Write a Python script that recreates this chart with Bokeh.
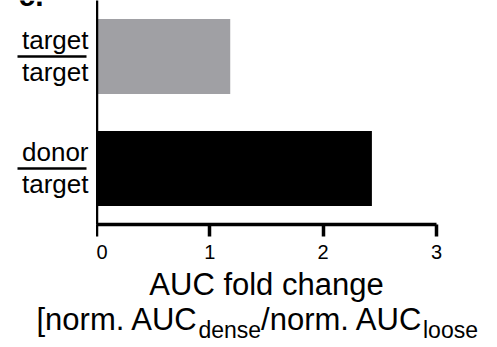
from bokeh.plotting import figure
from bokeh.layouts import column, row
from bokeh.models import Range1d, FactorRange, FixedTicker
from bokeh.core.properties import value
from bokeh.embed import file_html
from bokeh.resources import INLINE

# ---- data ----
categories = ["donor/target", "target/target"]      # bottom to top
numerators = ["donor", "target"]
denominators = ["target", "target"]
fold_change = [2.43, 1.18]
bar_colors = ["#000000", "#A0A0A4"]
x_ticks = [0, 1, 2, 3]
x_title = "AUC fold change"
x_title2 = [("[norm. AUC", False), ("dense", True), ("/norm. AUC", False), ("loose", True)]

FONT = "Liberation Sans"
W, H = 497, 347
LEFT_W = 96          # width of the category-label panel
FRAME_H = 224
AXIS_H = 43          # room under the frame for ticks + tick labels
MAIN_H = FRAME_H + AXIS_H
MR = 61
FRAME_W = W - LEFT_W - MR
XMIN, XMAX = 0, 3
BASE_FIX = 0.33      # renderer places 'alphabetic' baseline this many em low

yr = FactorRange(factors=categories, range_padding=0)

def bare(w, h, xr, yrange):
    f = figure(width=w, height=h, x_range=xr, y_range=yrange,
               output_backend="svg", toolbar_location=None,
               x_axis_type=None, y_axis_type=None,
               min_border_left=0, min_border_right=0, min_border_top=0,
               min_border_bottom=0)
    f.outline_line_color = None
    f.grid.grid_line_color = None
    return f

# ---- main chart ----
p = figure(width=W - LEFT_W, height=MAIN_H, x_range=Range1d(XMIN, XMAX), y_range=yr,
           output_backend="svg", toolbar_location=None,
           min_border_left=0, min_border_right=MR, min_border_top=0,
           min_border_bottom=AXIS_H)
p.outline_line_color = None
p.grid.grid_line_color = None

p.hbar(y=categories, left=0, right=fold_change, height=0.67,
       fill_color=bar_colors, line_color=None)

xa = p.xaxis[0]
xa.ticker = FixedTicker(ticks=x_ticks)
xa.axis_line_width = 3.5
xa.major_tick_line_width = 3.5
xa.major_tick_out = 12
xa.major_tick_in = 0
xa.minor_tick_line_color = None
xa.major_label_text_font = FONT
xa.major_label_text_font_size = "20px"
xa.major_label_text_color = "black"
xa.major_label_standoff = 8

ya = p.yaxis[0]
ya.axis_line_width = 3.5
ya.major_tick_line_color = None
ya.minor_tick_line_color = None
ya.major_tick_out = 0
ya.major_tick_in = 0
ya.major_label_text_font_size = "0px"
ya.major_label_text_color = None
ya.major_label_standoff = 0

# ---- left panel: fraction-style category labels ----
LFS = 26
lp = bare(LEFT_W, MAIN_H, Range1d(0, LEFT_W), yr)
lp.min_border_bottom = AXIS_H
n = len(categories)
lp.text(x=[LEFT_W - 8] * n, y=categories, text=numerators,
        y_offset=-8 - BASE_FIX * LFS, text_align="right", text_baseline="alphabetic",
        text_font=value(FONT), text_font_size=f"{LFS}px", text_color="black")
lp.text(x=[LEFT_W - 8] * n, y=categories, text=denominators,
        y_offset=24 - BASE_FIX * LFS, text_align="right", text_baseline="alphabetic",
        text_font=value(FONT), text_font_size=f"{LFS}px", text_color="black")
lp.segment(x0=[17] * n, x1=[86] * n, y0=categories, y1=categories,
           line_color="black", line_width=2.5)
# panel letter, mostly above the top edge
lp.text(x=[18], y=[categories[-1]], text=["c."], y_offset=-51 - BASE_FIX * 30,
        text_align="left", text_baseline="alphabetic", text_font=value(FONT),
        text_font_size="30px", text_font_style="bold", text_color="black")

# ---- bottom panel: x-axis title (two lines, second with subscripts) ----
BH = H - MAIN_H
bp = bare(W, BH, Range1d(0, W), Range1d(0, BH))
AW = {'[': 278, 'n': 556, 'o': 556, 'r': 333, 'm': 833, '.': 278, ' ': 278,
      'A': 667, 'U': 722, 'C': 722, 'd': 556, 'e': 556, 's': 500, '/': 278, 'l': 222}

def tw(s, size):
    return sum(AW[c] for c in s) * size / 1000.0

MAIN_FS, SUB_FS = 31, 23
bp.text(x=[LEFT_W + FRAME_W / 2], y=[BH - 27 + BASE_FIX * MAIN_FS], text=[x_title],
        text_font_size=f"{MAIN_FS}px", text_align="center",
        text_baseline="alphabetic", text_font=value(FONT), text_color="black")

xs, ys, txts, sizes = [], [], [], []
cur = 36
for txt, is_sub in x_title2:
    size = SUB_FS if is_sub else MAIN_FS
    xs.append(cur)
    ys.append(BH - (70 if is_sub else 62) + BASE_FIX * size)
    txts.append(txt)
    sizes.append(f"{size}px")
    cur += tw(txt, size)
bp.text(x=xs, y=ys, text=txts, text_font_size=sizes, text_align="left",
        text_baseline="alphabetic", text_font=value(FONT), text_color="black")

layout = column(row(lp, p, spacing=0), bp, spacing=0)
open("out.html", "w").write(file_html(layout, INLINE))
